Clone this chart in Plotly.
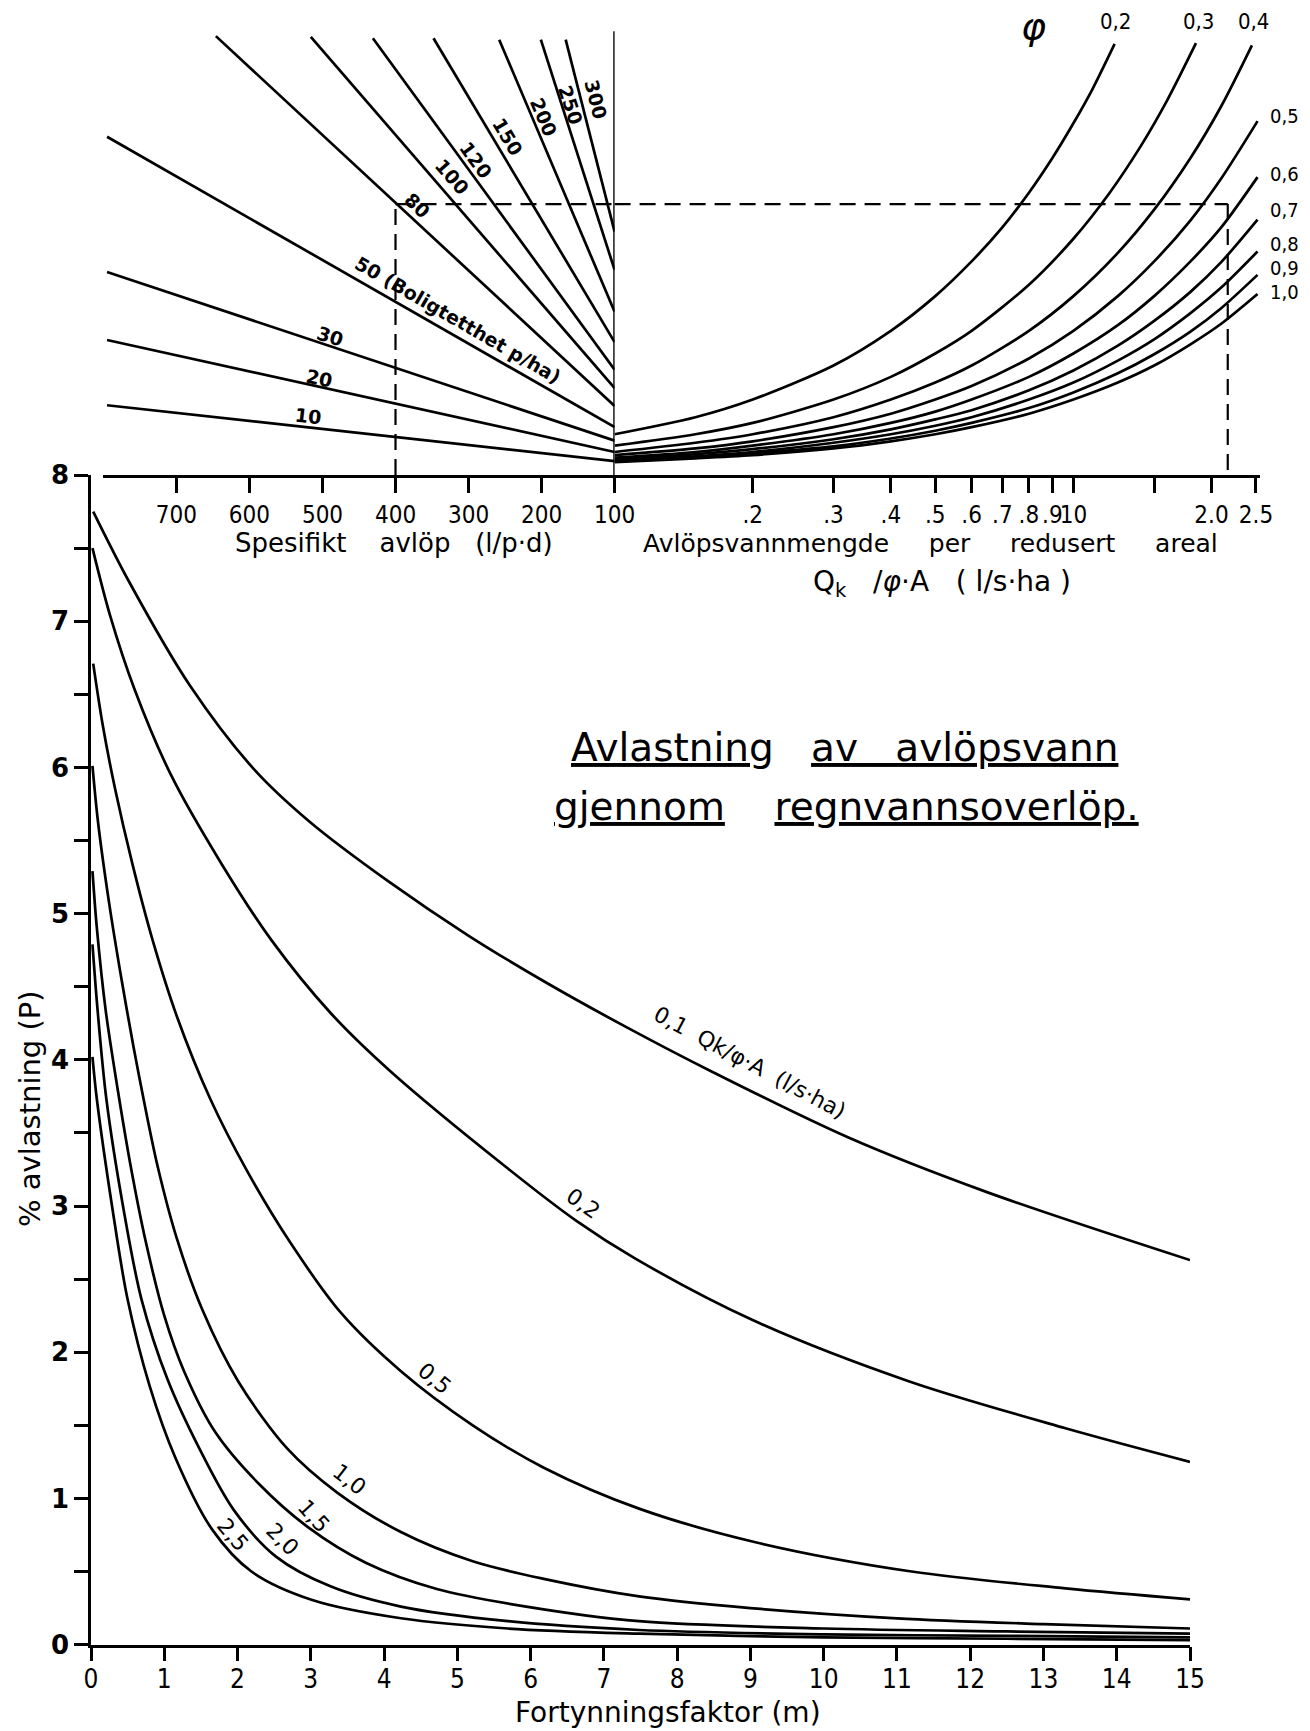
import math
import plotly.graph_objects as go

# ---------------- bottom chart: % avlastning (P) vs fortynningsfaktor (m)
c01_m = [0.03, 0.52, 1.35, 2.22, 2.98, 4.06, 5.15, 6.24, 7.32, 8.47, 10.33, 12.2, 15.0]
c01_p = [7.75, 7.27, 6.56, 5.99, 5.63, 5.22, 4.85, 4.52, 4.22, 3.92, 3.47, 3.10, 2.63]

c02_m = [0.02, 0.26, 0.59, 1.09, 1.77, 2.46, 3.27, 4.09, 5.63, 6.62, 7.43, 9.03, 11.17, 13.3, 15.0]
c02_p = [7.50, 7.04, 6.54, 5.95, 5.35, 4.82, 4.32, 3.92, 3.28, 2.90, 2.64, 2.22, 1.80, 1.48, 1.25]

c05_m = [0.03, 0.16, 0.33, 0.56, 0.84, 1.17, 1.63, 2.13, 2.72, 3.41, 4.23, 5.21, 6.18, 7.48, 9.07, 11.2, 13.3, 15.0]
c05_p = [6.71, 6.29, 5.85, 5.35, 4.82, 4.30, 3.73, 3.24, 2.75, 2.27, 1.87, 1.50, 1.21, 0.93, 0.70, 0.50, 0.385, 0.31]

c10_m = [0.02, 0.095, 0.245, 0.42, 0.58, 0.71, 0.91, 1.17, 1.52, 2.01, 2.68, 3.36, 4.23, 5.21, 6.18, 7.48, 9.0, 11.0, 13.0, 15.0]
c10_p = [6.01, 5.63, 5.08, 4.54, 4.09, 3.75, 3.27, 2.78, 2.29, 1.80, 1.34, 1.04, 0.77, 0.57, 0.45, 0.33, 0.25, 0.18, 0.14, 0.11]

c15_m = [0.02, 0.08, 0.20, 0.37, 0.55, 0.75, 1.0, 1.27, 1.70, 2.29, 2.97, 3.75, 4.72, 5.94, 7.48, 10.0, 12.5, 15.0]
c15_p = [5.29, 4.90, 4.34, 3.78, 3.25, 2.75, 2.25, 1.87, 1.45, 1.10, 0.80, 0.56, 0.38, 0.26, 0.16, 0.11, 0.09, 0.075]

c20_m = [0.02, 0.09, 0.21, 0.44, 0.69, 1.04, 1.49, 1.95, 2.53, 3.26, 4.23, 5.69, 7.48, 10.0, 12.5, 15.0]
c20_p = [4.79, 4.34, 3.73, 2.99, 2.36, 1.82, 1.33, 0.92, 0.60, 0.40, 0.26, 0.16, 0.10, 0.07, 0.06, 0.05]

c25_m = [0.02, 0.08, 0.29, 0.50, 0.80, 1.15, 1.65, 2.19, 3.02, 4.23, 5.69, 7.48, 10.0, 12.5, 15.0]
c25_p = [4.02, 3.73, 2.99, 2.36, 1.77, 1.28, 0.79, 0.50, 0.305, 0.18, 0.11, 0.075, 0.05, 0.04, 0.03]

bottom_curves = [(c01_m, c01_p), (c02_m, c02_p), (c05_m, c05_p), (c10_m, c10_p),
                 (c15_m, c15_p), (c20_m, c20_p), (c25_m, c25_p)]

# curve labels (m, P, text, angle)
bottom_labels = [
    (8.99, 3.98, "0,1&nbsp; Qk/φ·A&nbsp; (l/s·ha)", 28),
    (6.72, 3.02, "0,2", 35),
    (4.69, 1.82, "0,5", 40),
    (3.53, 1.13, "1,0", 38),
    (3.03, 0.88, "1,5", 48),
    (2.62, 0.72, "2,0", 45),
    (1.93, 0.75, "2,5", 50),
]

# ---------------- top-left: boligtetthet lines (y = dry-weather flow, l/s·ha)
density = [10, 20, 30, 50, 80, 100, 120, 150, 200, 250, 300]
q_far = [795, 795, 795, 795, 646, 516, 431, 348, 258, 201, 167]
y_far = [0.090, 0.182, 0.278, 0.469, 0.611, 0.610, 0.608, 0.608, 0.606, 0.606, 0.606]
y_at_100 = [0.011, 0.024, 0.040, 0.059, 0.089, 0.114, 0.140, 0.179, 0.222, 0.281, 0.335]
vertical_top = 0.618

density_labels = [
    (520, 0.075, "10", 6), (505, 0.128, "20", 12), (490, 0.188, "30", 18),
    (314, 0.210, "50 (Boligtetthet p/ha)", 30), (371, 0.372, "80", 43),
    (322, 0.412, "100", 49), (290, 0.436, "120", 54), (246, 0.469, "150", 59),
    (197, 0.497, "200", 67), (160, 0.514, "250", 72), (126, 0.522, "300", 76),
]

# ---------------- top-right: φ curves (x = Qk/φA, y = dry-weather flow)
phi_names = ["0,2", "0,3", "0,4", "0,5", "0,6", "0,7", "0,8", "0,9", "1,0"]
f02_x = [0.1, 0.15, 0.2, 0.3, 0.4, 0.5, 0.6, 0.7, 0.8, 0.9, 1.0, 1.1, 1.23]
f02_y = [0.049, 0.073, 0.098, 0.146, 0.195, 0.244, 0.293, 0.341, 0.390, 0.439, 0.488, 0.536, 0.600]
f03_x = [0.1, 0.15, 0.2, 0.3, 0.4, 0.5, 0.6, 0.8, 1.0, 1.2, 1.4, 1.6, 1.85]
f03_y = [0.033, 0.049, 0.065, 0.098, 0.130, 0.163, 0.195, 0.260, 0.325, 0.390, 0.455, 0.520, 0.601]
f04_x = [0.1, 0.15, 0.2, 0.3, 0.4, 0.5, 0.6, 0.8, 1.0, 1.25, 1.5, 1.8, 2.1, 2.45]
f04_y = [0.024, 0.037, 0.049, 0.073, 0.098, 0.122, 0.146, 0.195, 0.244, 0.305, 0.366, 0.439, 0.512, 0.598]
fx = [0.1, 0.15, 0.2, 0.3, 0.4, 0.5, 0.6, 0.8, 1.0, 1.25, 1.5, 1.8, 2.1, 2.52]
f05_y = [0.0195, 0.029, 0.039, 0.059, 0.078, 0.098, 0.117, 0.156, 0.195, 0.244, 0.293, 0.351, 0.410, 0.491]
f06_y = [0.016, 0.024, 0.033, 0.049, 0.065, 0.081, 0.098, 0.130, 0.163, 0.203, 0.244, 0.293, 0.341, 0.412]
f07_y = [0.014, 0.021, 0.028, 0.042, 0.056, 0.070, 0.083, 0.111, 0.139, 0.174, 0.209, 0.250, 0.292, 0.352]
f08_y = [0.012, 0.018, 0.024, 0.037, 0.049, 0.061, 0.073, 0.098, 0.122, 0.153, 0.183, 0.220, 0.256, 0.307]
f09_y = [0.011, 0.016, 0.022, 0.032, 0.043, 0.054, 0.065, 0.086, 0.108, 0.135, 0.162, 0.194, 0.227, 0.274]
f10_y = [0.0098, 0.015, 0.0195, 0.029, 0.039, 0.049, 0.059, 0.078, 0.098, 0.122, 0.146, 0.176, 0.205, 0.247]
phi_curves = [(f02_x, f02_y), (f03_x, f03_y), (f04_x, f04_y), (fx, f05_y), (fx, f06_y),
              (fx, f07_y), (fx, f08_y), (fx, f09_y), (fx, f10_y)]
phi_label_y = [0.631, 0.631, 0.631, 0.498, 0.416, 0.365, 0.318, 0.284, 0.250]
phi_label_x_top = [1.236, 1.87, 2.47]

# worked example (dashed): q = 400 l/p·d, 80 p/ha -> φ 0,6 -> Qk/φA ≈ 2.17
ex_q = 400
ex_y = 0.374
ex_x = 2.17

# axis ticks
q_ticks = [700, 600, 500, 400, 300, 200, 100]
x3_ticks = [0.2, 0.3, 0.4, 0.5, 0.6, 0.7, 0.8, 0.9, 1.0, 2.0, 2.5]
x3_text = [".2", ".3", ".4", ".5", ".6", ".7", ".8", ".9", "10", "2.0", "2.5"]
x3_minor = [1.5]
m_ticks = list(range(0, 16))
p_ticks = list(range(0, 9))
p_minor = [0.5, 1.5, 2.5, 3.5, 4.5, 5.5, 6.5, 7.5]

Y2_MIN = -0.0085

NARROW = "Liberation Sans Narrow, DejaVu Sans Condensed, Arial Narrow, sans-serif"
SANS = "DejaVu Sans, Liberation Sans, sans-serif"
LW = 2.7

fig = go.Figure()

for mx, py in bottom_curves:
    fig.add_trace(go.Scatter(x=mx, y=py, mode="lines", xaxis="x", yaxis="y",
                             line=dict(color="black", width=LW, shape="spline", smoothing=0.9),
                             hoverinfo="skip"))

for d, qf, yf, y1 in zip(density, q_far, y_far, y_at_100):
    fig.add_trace(go.Scatter(x=[qf, 100], y=[yf, y1], mode="lines", xaxis="x2", yaxis="y2",
                             line=dict(color="black", width=LW), hoverinfo="skip"))
fig.add_trace(go.Scatter(x=[100, 100], y=[Y2_MIN, vertical_top], mode="lines", xaxis="x2", yaxis="y2",
                         line=dict(color="black", width=LW), hoverinfo="skip"))

for cx, cy in phi_curves:
    fig.add_trace(go.Scatter(x=cx, y=cy, mode="lines", xaxis="x3", yaxis="y2",
                             line=dict(color="black", width=LW, shape="spline", smoothing=0.8),
                             hoverinfo="skip"))

dash = dict(color="black", width=2.2, dash="16px,9px")
fig.add_trace(go.Scatter(x=[ex_q, ex_q], y=[Y2_MIN, ex_y], mode="lines", xaxis="x2", yaxis="y2",
                         line=dash, hoverinfo="skip"))
fig.add_trace(go.Scatter(x=[ex_q, 100], y=[ex_y, ex_y], mode="lines", xaxis="x2", yaxis="y2",
                         line=dash, hoverinfo="skip"))
fig.add_trace(go.Scatter(x=[0.1, ex_x], y=[ex_y, ex_y], mode="lines", xaxis="x3", yaxis="y2",
                         line=dash, hoverinfo="skip"))
fig.add_trace(go.Scatter(x=[ex_x, ex_x], y=[ex_y, Y2_MIN], mode="lines", xaxis="x3", yaxis="y2",
                         line=dash, hoverinfo="skip"))

C = dict(xanchor="center", yanchor="middle", showarrow=False)
ann = []
for m, p, t, a in bottom_labels:
    ann.append(dict(x=m, y=p, xref="x", yref="y", text=t, textangle=a,
                    font=dict(family=SANS, size=22, color="black"), **C))
for q, y, t, a in density_labels:
    ann.append(dict(x=q, y=y, xref="x2", yref="y2", text=t, textangle=a,
                    font=dict(family=SANS, size=19, color="black", weight="bold"), **C))
for i, t in enumerate(phi_names):
    if i < 3:
        ann.append(dict(x=math.log10(phi_label_x_top[i]), y=phi_label_y[i], xref="x3", yref="y2", text=t,
                        font=dict(family=NARROW, size=22, color="black"), **C))
    else:
        ann.append(dict(x=1284 / 1310, y=phi_label_y[i], xref="paper", yref="y2", text=t,
                        font=dict(family=NARROW, size=20, color="black"), **C))
ann.append(dict(x=math.log10(0.817), y=0.626, xref="x3", yref="y2", text="<i>φ</i>",
                font=dict(family=SANS, size=38, color="black"), **C))

U = '<span style="text-decoration:underline">'
SP = "&nbsp;"
ann += [
    dict(x=394 / 1310, y=1 - 543 / 1731, xref="paper", yref="paper",
         text="Spesifikt" + SP * 3 + " avlöp" + SP * 2 + " (l/p·d)", font=dict(family=SANS, size=26, color="black"), **C),
    dict(x=930 / 1310, y=1 - 543 / 1731, xref="paper", yref="paper",
         text="Avlöpsvannmengde" + SP * 4 + " per" + SP * 4 + " redusert" + SP * 4 + " areal",
         font=dict(family=SANS, size=25, color="black"), **C),
    dict(x=942 / 1310, y=1 - 583 / 1731, xref="paper", yref="paper",
         text="Q<sub>k</sub>" + SP * 2 + " /<i>φ</i>·A" + SP * 2 + " (" + SP + "l/s·ha" + SP + ")",
         font=dict(family=SANS, size=28, color="black"), **C),
    dict(x=844 / 1310, y=1 - 747 / 1731, xref="paper", yref="paper",
         text=U + "Avlastning</span>" + SP * 2 + " " + U + "av" + SP * 2 + " avlöpsvann</span>",
         font=dict(family=SANS, size=39, color="black"), **C),
    dict(x=846 / 1310, y=1 - 806 / 1731, xref="paper", yref="paper",
         text=U + "gjennom</span>" + SP * 3 + " " + U + "regnvannsoverlöp.</span>",
         font=dict(family=SANS, size=39, color="black"), **C),
    dict(x=30 / 1310, y=1 - 1109 / 1731, xref="paper", yref="paper", textangle=-90,
         text="% avlastning (P)", font=dict(family=SANS, size=29, color="black"), **C),
    dict(x=668 / 1310, y=1 - 1712 / 1731, xref="paper", yref="paper",
         text="Fortynningsfaktor (m)", font=dict(family=SANS, size=28, color="black"), **C),
]

axis_common = dict(showline=True, linecolor="black", linewidth=2.5, ticks="outside",
                   tickcolor="black", tickwidth=2.5, showgrid=False, zeroline=False, automargin=False)

fig.update_layout(
    width=1310, height=1731, autosize=False,
    margin=dict(l=0, r=0, t=0, b=0, pad=0, autoexpand=False),
    paper_bgcolor="white", plot_bgcolor="white", showlegend=False,
    font=dict(family=SANS, color="black"),
    xaxis=dict(domain=[91 / 1310, 1190 / 1310], range=[0, 15], anchor="y",
               tickmode="array", tickvals=m_ticks, ticklen=14, tickangle=0, ticklabelstandoff=-5,
               tickfont=dict(family=NARROW, size=26), **axis_common),
    yaxis=dict(domain=[1 - 1644.6 / 1731, 1 - 475 / 1731], range=[0, 8], anchor="x",
               tickmode="array", tickvals=p_ticks, ticklen=14,
               minor=dict(tickmode="array", tickvals=p_minor, ticks="outside", ticklen=14,
                          tickwidth=2.5, tickcolor="black", showgrid=False),
               tickfont=dict(family=SANS, size=26, weight="bold"), **axis_common),
    xaxis2=dict(domain=[103.4 / 1310, 614.6 / 1310], range=[800, 100], anchor="y2",
                tickmode="array", tickvals=q_ticks, ticktext=[str(v) for v in q_ticks], ticklen=15,
                tickangle=0, tickfont=dict(family=NARROW, size=24), ticklabelstandoff=1, **axis_common),
    xaxis3=dict(domain=[614.6 / 1310, 1259.9 / 1310], type="log", range=[-1, math.log10(2.55)],
                anchor="y2", tickmode="array", tickvals=x3_ticks, ticktext=x3_text, ticklen=15,
                minor=dict(tickmode="array", tickvals=x3_minor, ticks="outside", ticklen=15,
                           tickwidth=2.5, tickcolor="black", showgrid=False),
                tickangle=0, tickfont=dict(family=NARROW, size=24), ticklabelstandoff=1, **axis_common),
    yaxis2=dict(domain=[1 - 475 / 1731, 1], range=[Y2_MIN, 0.662], anchor="x2", visible=False),
    annotations=ann,
)

fig.write_html("out.html", config={"displayModeBar": False},
               post_script="document.body.style.margin='0';document.body.style.overflow='hidden';")
